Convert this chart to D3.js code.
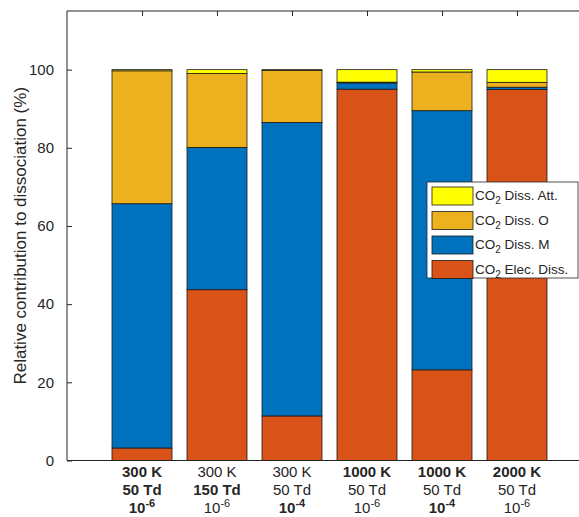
<!DOCTYPE html>
<html>
<head>
<meta charset="utf-8">
<script src="https://cdn.jsdelivr.net/npm/d3@7"></script>
<style>
  html, body { margin: 0; padding: 0; background: #fff; }
  svg { display: block; font-family: "Liberation Sans", Arial, Helvetica, sans-serif; }
</style>
</head>
<body>
<svg id="chart" width="579" height="517"></svg>
<script>
// Conditions: gas temperature, reduced field, ionisation degree
const temperatures = ["300 K", "300 K", "300 K", "1000 K", "1000 K", "2000 K"];
const fields       = ["50 Td", "150 Td", "50 Td", "50 Td", "50 Td", "50 Td"];
const ionDegrees   = ["-6", "-6", "-4", "-6", "-4", "-6"];
// Which label line is in bold for each condition
const boldTemp  = [true, false, false, true, true, true];
const boldField = [true, true, false, false, false, false];
const boldIon   = [true, false, true, false, true, false];

// Relative contribution of each channel (%), stacked bottom to top
const elecDiss = [3.2, 43.7, 11.4, 95.0, 23.2, 94.9];
const dissM    = [62.5, 36.4, 75.1, 1.6, 66.3, 0.6];
const dissO    = [34.0, 18.9, 13.3, 0.2, 9.9, 1.25];
const dissAtt  = [0.3, 1.0, 0.2, 3.2, 0.6, 3.25];

const seriesNames  = ["Elec. Diss.", "Diss. M", "Diss. O", "Diss. Att."];
const seriesColors = ["#D95319", "#0072BD", "#EDB120", "#FFFF00"];
const yTicks = [0, 20, 40, 60, 80, 100];

const svg = d3.select("#chart");
const plotLeft = 67, plotTop = 11, plotBottom = 460.5;
const step = 75;

const x = d3.scaleLinear().domain([0, 7]).range([plotLeft, plotLeft + 7 * step]);
const y = d3.scaleLinear().domain([0, 115]).range([plotBottom, plotTop]);

const rows = temperatures.map((t, i) => ({
  idx: i + 1, elec: elecDiss[i], m: dissM[i], o: dissO[i], att: dissAtt[i]
}));
const keys = ["elec", "m", "o", "att"];
const stacked = d3.stack().keys(keys)(rows);

const textColor = "#262626";
const axisColor = "#262626";
const barWidth = 0.8;

// Bars
svg.append("g").selectAll("g")
  .data(stacked)
  .join("g")
  .attr("fill", (d, i) => seriesColors[i])
  .selectAll("rect")
  .data(d => d)
  .join("rect")
  .attr("x", d => x(d.data.idx - barWidth / 2))
  .attr("width", x(barWidth) - x(0))
  .attr("y", d => y(d[1]))
  .attr("height", d => y(d[0]) - y(d[1]))
  .attr("stroke", "#1a1a1a")
  .attr("stroke-width", 0.8);

// Axis box lines
const plotRight = x(7);
svg.append("line").attr("x1", plotLeft).attr("x2", plotLeft).attr("y1", plotTop).attr("y2", plotBottom)
  .attr("stroke", axisColor).attr("stroke-width", 1);
svg.append("line").attr("x1", plotLeft).attr("x2", plotRight).attr("y1", plotBottom).attr("y2", plotBottom)
  .attr("stroke", axisColor).attr("stroke-width", 1);
svg.append("line").attr("x1", plotLeft).attr("x2", plotRight).attr("y1", plotTop).attr("y2", plotTop)
  .attr("stroke", axisColor).attr("stroke-width", 1);

// Y axis (ticks pointing inward)
const yAxis = d3.axisLeft(y).tickValues(yTicks).tickSizeInner(-5).tickSizeOuter(0).tickPadding(13);
const yg = svg.append("g").attr("transform", `translate(${plotLeft},0)`).call(yAxis);
yg.select(".domain").remove();
yg.selectAll(".tick line").attr("stroke", axisColor);
yg.selectAll(".tick text").attr("fill", textColor).style("font-size", "15px")
  .style("font-family", "'Liberation Sans', Arial, sans-serif");

// Top ticks at bar positions
const topAxis = d3.axisTop(x).tickValues(d3.range(1, 7)).tickSizeInner(-5).tickSizeOuter(0).tickFormat("");
const tg = svg.append("g").attr("transform", `translate(0,${plotTop})`).call(topAxis);
tg.select(".domain").remove();
tg.selectAll(".tick line").attr("stroke", axisColor);

// Multi-line x labels
const lab = svg.append("g").attr("fill", textColor).style("font-size", "15px").attr("text-anchor", "middle");
rows.forEach((r, i) => {
  const cx = x(r.idx);
  lab.append("text").attr("x", cx).attr("y", 477)
    .attr("font-weight", boldTemp[i] ? "bold" : "normal").text(temperatures[i]);
  lab.append("text").attr("x", cx).attr("y", 495)
    .attr("font-weight", boldField[i] ? "bold" : "normal").text(fields[i]);
  const t = lab.append("text").attr("x", cx).attr("y", 513)
    .attr("font-weight", boldIon[i] ? "bold" : "normal");
  t.append("tspan").text("10");
  t.append("tspan").attr("dy", -6).style("font-size", "11px").text(ionDegrees[i]);
});

// Y axis title
svg.append("text")
  .attr("transform", `translate(26,${(plotTop + plotBottom) / 2}) rotate(-90)`)
  .attr("text-anchor", "middle")
  .attr("fill", textColor)
  .style("font-size", "17px")
  .text("Relative contribution to dissociation (%)");

// Legend (top entry is the last stacked series)
const lg = svg.append("g");
const lx = 427, ly = 182, lw = 151, lh = 96;
lg.append("rect").attr("x", lx).attr("y", ly).attr("width", lw).attr("height", lh)
  .attr("fill", "#fff").attr("stroke", "#262626").attr("stroke-width", 0.8);
const order = [3, 2, 1, 0];
order.forEach((s, k) => {
  const cy = 196 + k * 24.5;
  lg.append("rect").attr("x", lx + 5).attr("y", cy - 9).attr("width", 41).attr("height", 18)
    .attr("fill", seriesColors[s]).attr("stroke", "#1a1a1a").attr("stroke-width", 0.8);
  const t = lg.append("text").attr("x", lx + 48).attr("y", cy + 4)
    .attr("fill", textColor).style("font-size", "13.5px");
  t.append("tspan").text("CO");
  t.append("tspan").attr("dy", 4).style("font-size", "10px").text("2");
  t.append("tspan").attr("dy", -4).text(" " + seriesNames[s]);
});
</script>
</body>
</html>
